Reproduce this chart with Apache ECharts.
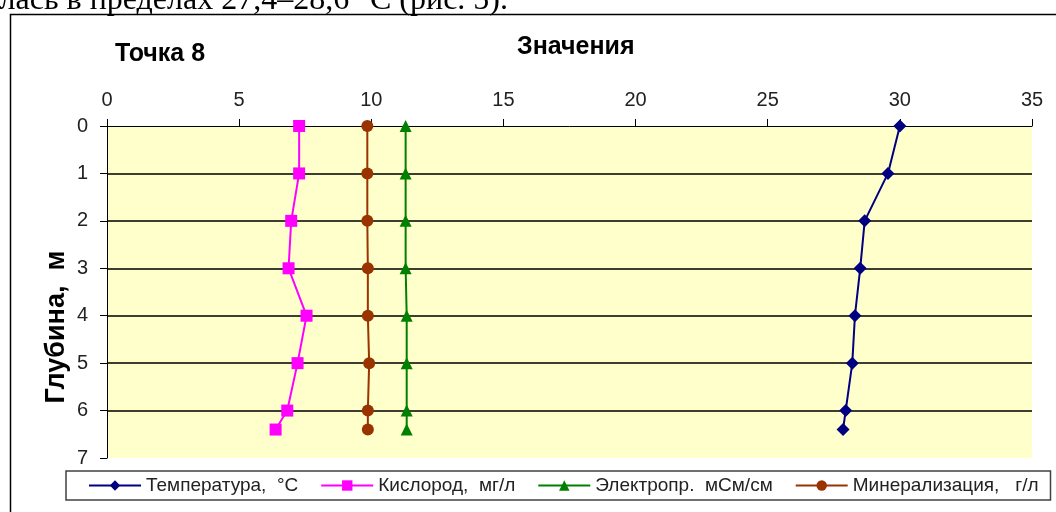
<!DOCTYPE html>
<html>
<head>
<meta charset="utf-8">
<script src="https://cdn.jsdelivr.net/npm/echarts@6/dist/echarts.min.js"></script>
<style>
html,body{margin:0;padding:0;background:#fff;}
#chart{width:1056px;height:512px;}
</style>
</head>
<body>
<div id="chart"></div>
<script>
// Depth (m) of each measurement
var depths = [0, 1, 2, 3, 4, 5, 6, 6.4];
// Series values
var temperature = [30.0, 29.55, 28.67, 28.5, 28.3, 28.2, 27.95, 27.85];
var oxygen = [7.27, 7.27, 6.97, 6.87, 7.55, 7.21, 6.82, 6.38];
var conductivity = [11.3, 11.3, 11.3, 11.3, 11.34, 11.34, 11.34, 11.34];
var mineralization = [9.85, 9.85, 9.85, 9.87, 9.87, 9.92, 9.87, 9.87];
// Labels
var seriesNames = ['Температура,  °C', 'Кислород,  мг/л', 'Электропр.  мСм/см', 'Минерализация,   г/л'];
var chartTitle = 'Точка 8';
var xAxisTitle = 'Значения';
var yAxisTitle = 'Глубина,  м';
var pageText = 'колебалась в пределах 27,4–28,6 °С (рис. 5).';

function pairs(vals) {
  return vals.map(function (v, i) { return [v, depths[i]]; });
}

var chart = echarts.init(document.getElementById('chart'), null, {renderer: 'canvas'});
var font = '"Liberation Sans", Arial, sans-serif';

var seriesStyles = [
  {color: '#000080', symbol: 'diamond', size: 13},
  {color: '#FF00FF', symbol: 'rect', size: 12},
  {color: '#008000', symbol: 'triangle', size: 12},
  {color: '#993300', symbol: 'circle', size: 12}
];
var seriesData = [temperature, oxygen, conductivity, mineralization];

var option = {
  backgroundColor: '#ffffff',
  animation: false,
  grid: {
    left: 107, right: 24, top: 126, bottom: 54,
    show: true, backgroundColor: '#FFFFCC', borderWidth: 0,
    containLabel: false, outerBoundsMode: 'none'
  },
  xAxis: {
    type: 'value', position: 'top', min: 0, max: 35, interval: 5,
    axisLine: {show: true, onZero: false, lineStyle: {color: '#000', width: 1}},
    axisTick: {show: true, inside: false, length: 7, lineStyle: {color: '#000'}},
    axisLabel: {fontSize: 20, color: '#222', fontFamily: font, margin: 16},
    splitLine: {show: false}
  },
  yAxis: {
    type: 'value', inverse: true, min: 0, max: 7, interval: 1,
    axisLine: {show: true, onZero: false, lineStyle: {color: '#000', width: 1}},
    axisTick: {show: true, inside: false, length: 7, lineStyle: {color: '#000'}},
    axisLabel: {fontSize: 20, color: '#222', fontFamily: font, margin: 19},
    splitLine: {show: true, showMinLine: false, showMaxLine: false, lineStyle: {color: '#3d3d30', width: 2}}
  },
  legend: {
    left: 66, top: 471,
    padding: [5, 12, 5, 22],
    itemGap: 22, itemWidth: 52, itemHeight: 13,
    borderColor: '#404040', borderWidth: 1.5, backgroundColor: '#fff',
    textStyle: {fontSize: 19, color: '#222', fontFamily: font},
    data: seriesNames
  },
  series: seriesNames.map(function (name, i) {
    var s = seriesStyles[i];
    return {
      name: name, type: 'line', data: pairs(seriesData[i]),
      symbol: s.symbol, symbolSize: s.size, showAllSymbol: true,
      lineStyle: {color: s.color, width: 2},
      itemStyle: {color: s.color},
      z: 3
    };
  }),
  graphic: [
    {type: 'text', x: 508, y: 1,
     style: {text: pageText, font: '32px "Liberation Serif", "Times New Roman", serif', fill: '#000', align: 'right', verticalAlign: 'middle'}},
    {type: 'rect', shape: {x: 10.5, y: 14.5, width: 1100, height: 600},
     style: {fill: null, stroke: '#000', lineWidth: 1.5}, z: 10},
    {type: 'text', x: 115, y: 54,
     style: {text: chartTitle, font: 'bold 25px "Liberation Sans", Arial, sans-serif', fill: '#000', align: 'left', verticalAlign: 'middle'}},
    {type: 'text', x: 517, y: 47,
     style: {text: xAxisTitle, font: 'bold 25px "Liberation Sans", Arial, sans-serif', fill: '#000', align: 'left', verticalAlign: 'middle'}},
    {type: 'text', x: 57, y: 327, rotation: Math.PI / 2,
     style: {text: yAxisTitle, font: 'bold 27px "Liberation Sans", Arial, sans-serif', fill: '#000', align: 'center', verticalAlign: 'middle'}}
  ]
};
chart.setOption(option);
</script>
</body>
</html>
